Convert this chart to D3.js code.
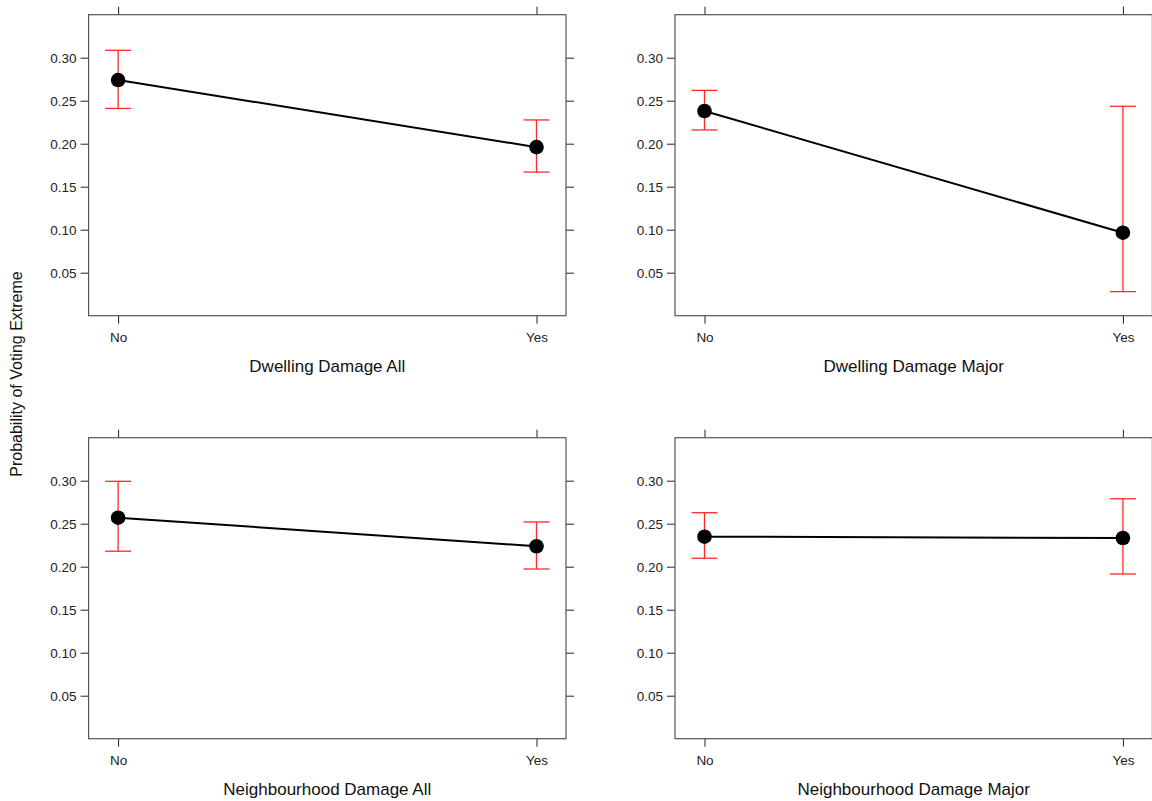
<!DOCTYPE html>
<html>
<head>
<meta charset="utf-8">
<script src="https://cdn.jsdelivr.net/npm/d3@7"></script>
<style>
  body { margin: 0; background: #fff; }
  svg { display: block; font-family: "Liberation Sans", Arial, sans-serif; }
</style>
</head>
<body>
<div id="chart"></div>
<script>
// data
var levels = ["No", "Yes"];
var panelTitles = ["Dwelling Damage All", "Dwelling Damage Major", "Neighbourhood Damage All", "Neighbourhood Damage Major"];
var fitValues = [[0.274, 0.196], [0.238, 0.0965], [0.257, 0.2237], [0.2349, 0.2334]];
var lowerValues = [[0.241, 0.167], [0.216, 0.028], [0.218, 0.1973], [0.2098, 0.1915]];
var upperValues = [[0.3086, 0.2276], [0.262, 0.2435], [0.2993, 0.252], [0.2628, 0.279]];
var yTicks = [0.05, 0.10, 0.15, 0.20, 0.25, 0.30];
var yLabel = "Probability of Voting Extreme";

var width = 1152, height = 801,
    panelW = 477.4, panelH = 301,
    colX = [88.6, 675], rowY = [14.7, 437.7],
    frameColor = "#555";

var svg = d3.select("#chart").append("svg")
    .attr("width", width)
    .attr("height", height);

var y = d3.scaleLinear().domain([0, 0.35]).range([panelH, 0]);
var x = d3.scalePoint().domain(levels).range([29.5, panelW - 29.5]);

panelTitles.forEach(function(title, i) {
    var col = i % 2, row = Math.floor(i / 2);
    var g = svg.append("g")
        .attr("transform", `translate(${colX[col]},${rowY[row]})`);

    var pts = levels.map((l, j) => ({ level: l, fit: fitValues[i][j], lo: lowerValues[i][j], hi: upperValues[i][j] }));

    // axes: left labelled, right ticks only, top/bottom at factor levels
    var left = g.append("g")
        .call(d3.axisLeft(y).tickValues(yTicks).tickFormat(d3.format(".2f")).tickSize(8).tickPadding(4));
    var right = g.append("g")
        .attr("transform", `translate(${panelW},0)`)
        .call(d3.axisRight(y).tickValues(yTicks).tickFormat("").tickSize(8));
    var bottom = g.append("g")
        .attr("transform", `translate(0,${panelH})`)
        .call(d3.axisBottom(x).tickSize(8).tickPadding(9));
    var top = g.append("g")
        .call(d3.axisTop(x).tickFormat("").tickSize(8));

    [left, right, bottom, top].forEach(function(a) {
        a.select(".domain").remove();
        a.selectAll(".tick line").attr("stroke", "#222");
        a.selectAll(".tick text").attr("fill", "#222").style("font-size", "13.5px");
    });

    g.append("rect")
        .attr("width", panelW)
        .attr("height", panelH)
        .attr("fill", "none")
        .attr("stroke", frameColor)
        .attr("stroke-width", 1.2);

    // error bars
    var eb = g.selectAll(".eb").data(pts).join("g")
        .attr("stroke", "#ff2a2a")
        .attr("stroke-width", 1.3);
    eb.append("line")
        .attr("x1", d => x(d.level)).attr("x2", d => x(d.level))
        .attr("y1", d => y(d.lo)).attr("y2", d => y(d.hi));
    eb.append("line")
        .attr("x1", d => x(d.level) - 13).attr("x2", d => x(d.level) + 13)
        .attr("y1", d => y(d.lo)).attr("y2", d => y(d.lo));
    eb.append("line")
        .attr("x1", d => x(d.level) - 13).attr("x2", d => x(d.level) + 13)
        .attr("y1", d => y(d.hi)).attr("y2", d => y(d.hi));

    g.append("path")
        .datum(pts)
        .attr("fill", "none")
        .attr("stroke", "#000")
        .attr("stroke-width", 2)
        .attr("d", d3.line().x(d => x(d.level)).y(d => y(d.fit)));

    g.selectAll(".pt").data(pts).join("circle")
        .attr("cx", d => x(d.level))
        .attr("cy", d => y(d.fit))
        .attr("r", 7.3)
        .attr("fill", "#000");

    g.append("text")
        .attr("x", panelW / 2)
        .attr("y", panelH + 56)
        .attr("text-anchor", "middle")
        .attr("fill", "#111")
        .style("font-size", "17px")
        .text(title);
});

svg.append("text")
    .attr("transform", "translate(22,374) rotate(-90)")
    .attr("text-anchor", "middle")
    .attr("fill", "#111")
    .style("font-size", "16px")
    .text(yLabel);
</script>
</body>
</html>
